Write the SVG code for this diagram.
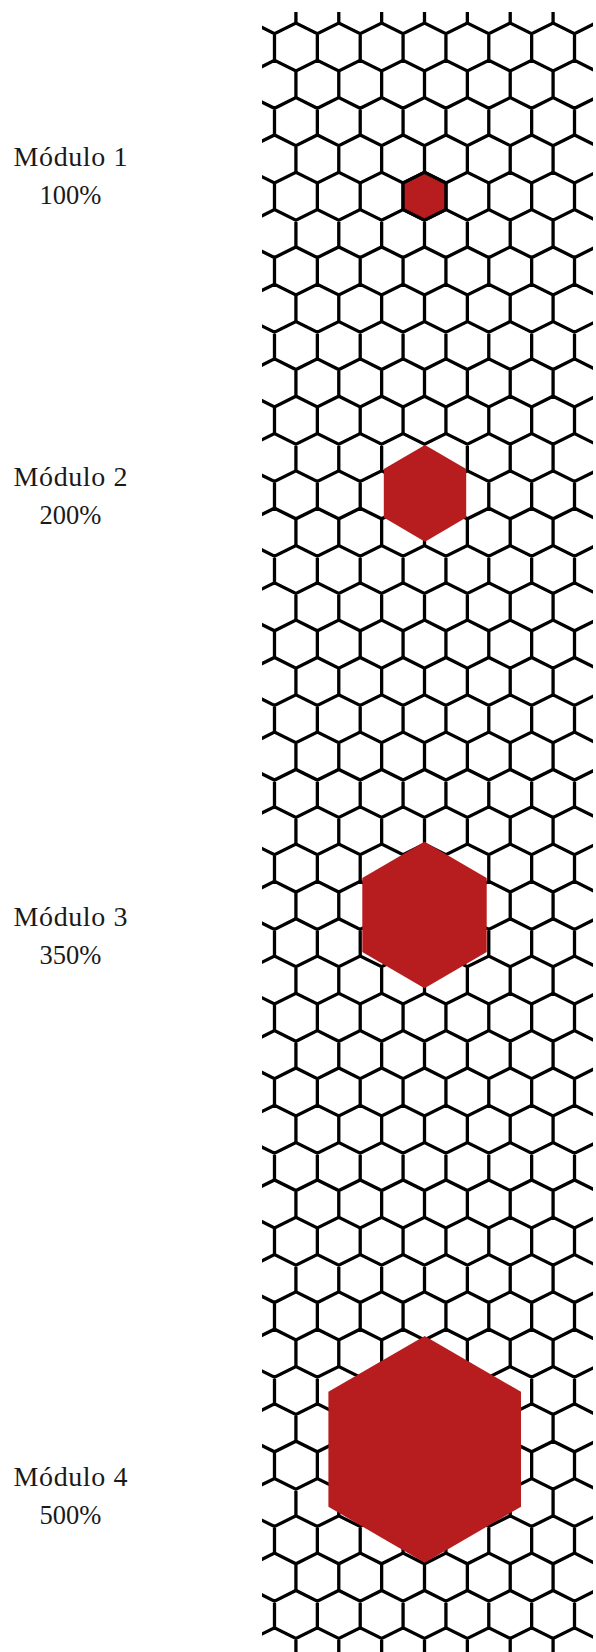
<svg xmlns="http://www.w3.org/2000/svg" xmlns:xlink="http://www.w3.org/1999/xlink" width="596" height="1652" viewBox="0 0 596 1652">
<style>
.grid{fill:none;stroke:#000;stroke-width:3.3}
.lbl{font-family:"Liberation Serif","DejaVu Serif",serif;font-size:28px;fill:#1a1a1a;text-anchor:middle}
.pct{font-size:26.5px}
.mod{fill:#B71C1E}
</style>
<defs>
<clipPath id="gclip"><rect x="262" y="12" width="331" height="1640"/></clipPath>
<path id="row" d="M0,-13.32l21.43,-10.68l21.43,10.68l21.43,-10.68l21.43,10.68l21.43,-10.68l21.43,10.68l21.43,-10.68l21.43,10.68l21.43,-10.68l21.43,10.68l21.43,-10.68l21.43,10.68l21.43,-10.68l21.43,10.68l21.43,-10.68l21.43,10.68l21.43,-10.68l21.43,10.68l21.43,-10.68l21.43,10.68M0,-13.32v26.64M42.86,-13.32v26.64M85.72,-13.32v26.64M128.58,-13.32v26.64M171.44,-13.32v26.64M214.3,-13.32v26.64M257.16,-13.32v26.64M300.02,-13.32v26.64M342.88,-13.32v26.64M385.74,-13.32v26.64M428.6,-13.32v26.64"/>
</defs>
<rect width="596" height="1652" fill="#fff"/>
<g id="grid" class="grid" clip-path="url(#gclip)">
<use href="#row" x="167.34" y="9.68"/>
<use href="#row" x="188.77" y="47"/>
<use href="#row" x="167.34" y="84.32"/>
<use href="#row" x="188.77" y="121.64"/>
<use href="#row" x="167.34" y="158.96"/>
<use href="#row" x="188.77" y="196.28"/>
<use href="#row" x="167.34" y="233.6"/>
<use href="#row" x="188.77" y="270.92"/>
<use href="#row" x="167.34" y="308.24"/>
<use href="#row" x="188.77" y="345.56"/>
<use href="#row" x="167.34" y="382.88"/>
<use href="#row" x="188.77" y="420.2"/>
<use href="#row" x="167.34" y="457.52"/>
<use href="#row" x="188.77" y="494.84"/>
<use href="#row" x="167.34" y="532.16"/>
<use href="#row" x="188.77" y="569.48"/>
<use href="#row" x="167.34" y="606.8"/>
<use href="#row" x="188.77" y="644.12"/>
<use href="#row" x="167.34" y="681.44"/>
<use href="#row" x="188.77" y="718.76"/>
<use href="#row" x="167.34" y="756.08"/>
<use href="#row" x="188.77" y="793.4"/>
<use href="#row" x="167.34" y="830.72"/>
<use href="#row" x="188.77" y="868.04"/>
<use href="#row" x="167.34" y="905.36"/>
<use href="#row" x="188.77" y="942.68"/>
<use href="#row" x="167.34" y="980"/>
<use href="#row" x="188.77" y="1017.32"/>
<use href="#row" x="167.34" y="1054.64"/>
<use href="#row" x="188.77" y="1091.96"/>
<use href="#row" x="167.34" y="1129.28"/>
<use href="#row" x="188.77" y="1166.6"/>
<use href="#row" x="167.34" y="1203.92"/>
<use href="#row" x="188.77" y="1241.24"/>
<use href="#row" x="167.34" y="1278.56"/>
<use href="#row" x="188.77" y="1315.88"/>
<use href="#row" x="167.34" y="1353.2"/>
<use href="#row" x="188.77" y="1390.52"/>
<use href="#row" x="167.34" y="1427.84"/>
<use href="#row" x="188.77" y="1465.16"/>
<use href="#row" x="167.34" y="1502.48"/>
<use href="#row" x="188.77" y="1539.8"/>
<use href="#row" x="167.34" y="1577.12"/>
<use href="#row" x="188.77" y="1614.44"/>
<use href="#row" x="167.34" y="1651.76"/>
</g>
<g id="modulo1">
<polygon class="mod" stroke="#000" stroke-width="3.3" points="424.5,172.28 445.93,182.96 445.93,209.6 424.5,220.28 403.07,209.6 403.07,182.96"/>
<text class="lbl" x="70.5" y="166" textLength="114">Módulo 1</text>
<text class="lbl pct" x="70.5" y="204">100%</text>
</g>
<g id="modulo2">
<polygon class="mod" points="425,445 466.2,469.1 466.2,517.5 425,541.7 383.8,517.5 383.8,469.1"/>
<text class="lbl" x="70.5" y="486" textLength="114">Módulo 2</text>
<text class="lbl pct" x="70.5" y="524">200%</text>
</g>
<g id="modulo3">
<polygon class="mod" points="424.5,841.7 486.7,878 486.7,952 424.5,988.3 362.3,952 362.3,878"/>
<text class="lbl" x="70.5" y="926" textLength="114">Módulo 3</text>
<text class="lbl pct" x="70.5" y="964">350%</text>
</g>
<g id="modulo4">
<polygon class="mod" points="424.7,1336 521,1391.8 521,1506.8 424.7,1562.7 328.4,1506.8 328.4,1391.8"/>
<text class="lbl" x="70.5" y="1486" textLength="114">Módulo 4</text>
<text class="lbl pct" x="70.5" y="1524">500%</text>
</g>
</svg>
